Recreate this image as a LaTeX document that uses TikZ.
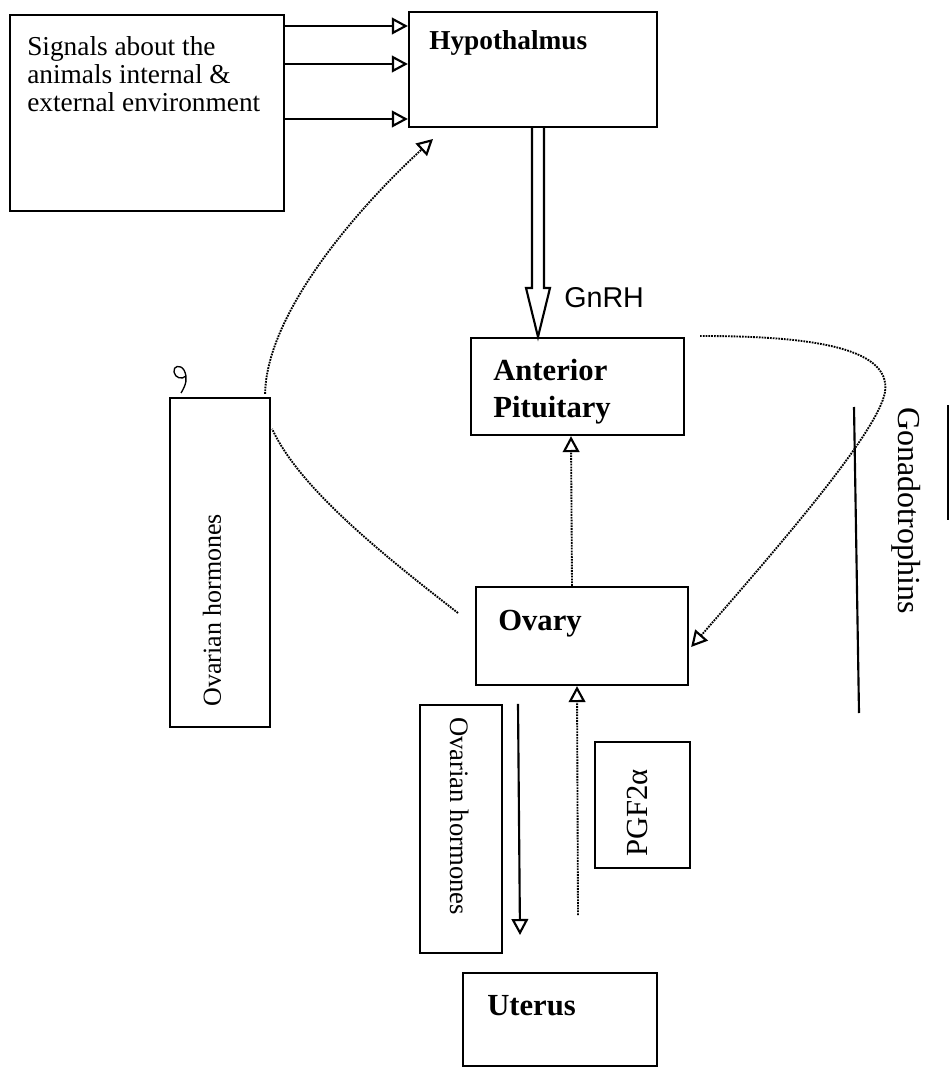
\documentclass[tikz,border=0pt]{standalone}
\usepackage{fontspec}
\setmainfont{Liberation Serif}
\newfontfamily\gnsans{Liberation Sans}
\usetikzlibrary{arrows.meta,calc,fit}
\tikzset{
  box/.style={draw=black, line width=1.7pt, inner sep=0pt, fill=none},
  lbl/.style={inner sep=0pt, font=\fontsize{20.5}{21}\selectfont},
  blbl/.style={inner sep=0pt, font=\fontsize{23}{27.75}\selectfont\bfseries},
  opentip/.style={-{Triangle[open, length=12pt, width=12.5pt, line width=1.6pt]}},
  solidcon/.style={line width=1.6pt, opentip},
  dotcon/.style={line width=1.4pt, dash pattern=on 1.3pt off 0.8pt},
  hollow/.style={draw=black, line width=1.6pt, fill=white}
}
\begin{document}
\begin{tikzpicture}[x=0.75pt, y=-0.75pt]
\useasboundingbox (0,0) rectangle (949,1069);

% boxes
\node[box, fit={(10,15) (284,211)}] (sig) {};
\node[box, fit={(409,12) (657,127)}] (hyp) {};
\node[box, fit={(471,338) (684,435)}] (ap) {};
\node[box, fit={(476,587) (688,685)}] (ov) {};
\node[box, fit={(170,398) (270,727)}] (ohl) {};
\node[box, fit={(420,705) (502,953)}] (ohb) {};
\node[box, fit={(595,742) (690,868)}] (pgf) {};
\node[box, fit={(463,973) (657,1066)}] (ut) {};

% texts (multi-line nodes: base anchor = last line baseline)
\node[lbl, anchor=base west, align=left] (sigt) at (27,112)
  {Signals about the\\animals internal \&\\external environment};
\node[inner sep=0pt, anchor=base west, font=\fontsize{20.5}{24}\selectfont\bfseries] (hypt) at (429,50) {Hypothalmus};
\node[inner sep=0pt, anchor=base west, font=\fontsize{21.5}{24}\selectfont\gnsans] (gnrh) at (564,308) {GnRH};
\node[blbl, anchor=base west, align=left] (apt) at (493,417) {Anterior\\Pituitary};
\node[blbl, anchor=base west] (ovt) at (498,630) {Ovary};
\node[blbl, anchor=base west] (utt) at (487,1015) {Uterus};
\node[inner sep=0pt, font=\fontsize{24}{26}\selectfont, rotate=-90, anchor=west] (gon) at (906,407) {Gonadotrophins};
\node[inner sep=0pt, font=\fontsize{19.5}{22}\selectfont, rotate=90, anchor=west] (ohlt) at (212,707) {Ovarian hormones};
\node[inner sep=0pt, font=\fontsize{20}{22}\selectfont, rotate=-90, anchor=west] (ohbt) at (460,717) {Ovarian hormones};
\node[inner sep=0pt, font=\fontsize{23}{26}\selectfont, rotate=90, anchor=west] (pgft) at (637,857) {PGF2α};

% signals -> hypothalamus
\draw[solidcon] (sig.east |- 0,26) -- (hyp.west |- 0,26);
\draw[solidcon] (sig.east |- 0,64) -- (hyp.west |- 0,64);
\draw[solidcon] (sig.east |- 0,119) -- (hyp.west |- 0,119);

% GnRH hollow arrow
\draw[hollow] (532,0 |- hyp.south) -- (532,288) -- (526,288) -- (538,0 |- ap.north)
  -- (550,288) -- (544,288) -- (544,0 |- hyp.south);

% ovary -> anterior pituitary
\draw[dotcon, opentip] (572,0 |- ov.north) -- (571,0 |- ap.south);

% gonadotrophins curve
\coordinate (gstart) at (700,336);
\draw[dotcon, opentip] (gstart) .. controls (800,336) and (892,345) .. (885,392)
  .. controls (878,432) and (780,545) .. ($(ov.east)+(2,11)$);
\draw[line width=1.6pt] (854,407) -- (859,713);

% ovarian hormones (left) -> hypothalamus
\coordinate (hfb) at (433,139);
\draw[dotcon, opentip] ($(ohl.north east)+(-6,-3)$) .. controls (266,320) and (345,220) .. (hfb);
% ovary -- ovarian hormones (left)
\coordinate (ovl) at (458,613);
\draw[dotcon] (ovl) .. controls (390,560) and (300,490) .. ($(ohl.north east)+(1,32)$);

% ovary -> uterus (ovarian hormones)
\draw[solidcon] (518,0 |- ohb.north) -- (520,935);
% PGF2alpha -> ovary
\coordinate (pgfs) at (578,915);
\draw[dotcon, opentip] (pgfs) -- (577,0 |- ov.south);

% scan marks
\draw[line width=1pt] (181,393) .. controls (186,385) and (188,378) .. (184,370)
  .. controls (180,364) and (173,366) .. (174,372) .. controls (175,378) and (182,380) .. (186,376);
\draw[line width=1.2pt] (948,405) -- (948,520);
\end{tikzpicture}
\end{document}
